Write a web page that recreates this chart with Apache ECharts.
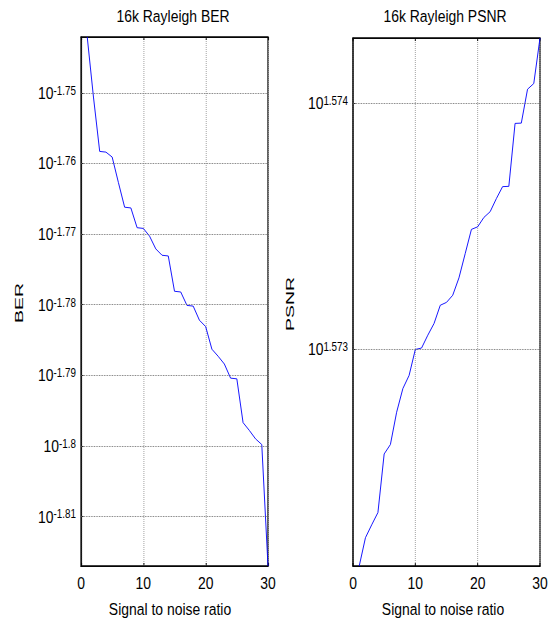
<!DOCTYPE html>
<html>
<head>
<meta charset="utf-8">
<script src="https://cdn.jsdelivr.net/npm/echarts@6/dist/echarts.min.js"></script>
<style>
  html, body { margin: 0; padding: 0; background: #fff; overflow: hidden; width: 556px; height: 624px; }
  /* the original figure is squeezed horizontally, so draw wider and squeeze the same way */
  #chart { width: 678px; height: 624px; transform: scaleX(0.82); transform-origin: 0 0; }
</style>
</head>
<body>
<div id="chart"></div>
<script>
// signal to noise ratio (x)
var snr = [1, 2, 3, 4, 5, 6, 7, 8, 9, 10, 11, 12, 13, 14, 15, 16, 17, 18, 19, 20,
           21, 22, 23, 24, 25, 26, 27, 28, 29, 30];

var ber = [0.0181092, 0.0177582, 0.0174462, 0.0174422, 0.0174141, 0.0172703, 0.0171317, 0.0171277,
           0.0170177, 0.0170137, 0.0169707, 0.0169004, 0.0168654, 0.0168616, 0.0166686, 0.0166648,
           0.0165920, 0.0165882, 0.0165120, 0.0164778, 0.0163568, 0.0163192, 0.0162779, 0.0162031,
           0.0161995, 0.0159699, 0.0159295, 0.0158855, 0.0158563, 0.0152406];

var psnr = [37.3352, 37.3451, 37.3496, 37.3539, 37.3744, 37.3777, 37.3890, 37.3973, 37.4019, 37.4110,
            37.4115, 37.4160, 37.4201, 37.4265, 37.4275, 37.4300, 37.4361, 37.4446, 37.4531, 37.4540,
            37.4573, 37.4593, 37.4639, 37.4681, 37.4682, 37.4903, 37.4904, 37.5023, 37.5043, 37.5203];

// log axis tick labels (exponents of 10)
var berTicks = ['-1.75', '-1.76', '-1.77', '-1.78', '-1.79', '-1.8', '-1.81'];
var psnrTicks = ['1.574', '1.573'];

var FONT = "'Liberation Sans', Arial, Helvetica, sans-serif";
var SX = 0.82;

// screen x -> x before the squeeze
function px(x){ return x / SX; }

function pairs(xs, ys){
    return xs.map(function (x, i) { return [x, ys[i]]; });
}

function tick_values(ticks){
    return ticks.map(function (t) { return Math.pow(10, parseFloat(t)); });
}

// horizontal grid lines of the log axis, with 10^x labels on the left
function log_grid_lines(ticks){
    return {
        silent: true,
        symbol: 'none',
        precision: 10,
        animation: false,
        lineStyle: { color: '#666', type: 'dotted', width: 1 },
        label: {
            show: true,
            position: 'start',
            distance: px(5),
            formatter: function (p) { return '{b|10}{s|' + p.name + '}'; },
            rich: {
                b: { fontFamily: FONT, fontSize: 17, lineHeight: 17, color: '#000', verticalAlign: 'bottom' },
                s: { fontFamily: FONT, fontSize: 12, lineHeight: 11, color: '#000', verticalAlign: 'top' }
            }
        },
        data: ticks.map(function (t) {
            return { name: t, yAxis: Math.pow(10, parseFloat(t)) };
        })
    };
}

function x_axes(grid_index){
    return [{
        type: 'value', gridIndex: grid_index, min: 0, max: 30, interval: 10,
        axisLine: { lineStyle: { color: '#000' } },
        axisTick: { inside: true, length: 3, lineStyle: { color: '#000' } },
        axisLabel: { fontFamily: FONT, fontSize: 17, color: '#000', margin: 8 },
        splitLine: { show: true, lineStyle: { color: '#999', type: 'dotted' } }
    }, {
        type: 'value', gridIndex: grid_index, position: 'top', min: 0, max: 30, interval: 10,
        axisLine: { lineStyle: { color: '#000' } },
        axisTick: { inside: true, length: 3, lineStyle: { color: '#000' } },
        axisLabel: { show: false },
        splitLine: { show: false }
    }];
}

function y_axis(grid_index, ticks){
    return {
        type: 'log', logBase: 10, gridIndex: grid_index, min: 'dataMin', max: 'dataMax',
        axisLine: { show: true, lineStyle: { color: '#000' } },
        axisTick: { show: true, inside: true, length: 3, customValues: tick_values(ticks), lineStyle: { color: '#000' } },
        axisLabel: { show: false },
        splitLine: { show: false }
    };
}

function line_series(name, x_index, y_index, data, ticks){
    return {
        type: 'line', name: name,
        xAxisIndex: x_index, yAxisIndex: y_index,
        data: data,
        symbol: 'none',
        lineStyle: { color: '#0000ff', width: 1 },
        markLine: log_grid_lines(ticks)
    };
}

function text_el(txt, x, y, size, rot, sx){
    return {
        type: 'text', x: px(x), y: y, rotation: rot || 0, scaleX: sx || 1,
        style: {
            text: txt, fill: '#000', fontFamily: FONT, fontSize: size,
            align: 'center', verticalAlign: 'middle', textAlign: 'center', textVerticalAlign: 'middle'
        }
    };
}

var chart = echarts.init(document.getElementById('chart'), null, { renderer: 'svg' });
var options = {
    animation: false,
    backgroundColor: '#fff',
    grid: [
        { left: px(81), top: 37, width: px(187), height: 529, show: true, borderColor: '#000', borderWidth: 1.5, backgroundColor: 'transparent' },
        { left: px(353), top: 38, width: px(187), height: 528, show: true, borderColor: '#000', borderWidth: 1.5, backgroundColor: 'transparent' }
    ],
    // each grid gets a bottom x axis and a top one (ticks only)
    xAxis: x_axes(0).concat(x_axes(1)),
    yAxis: [y_axis(0, berTicks), y_axis(1, psnrTicks)],
    series: [
        line_series('BER', 0, 0, pairs(snr, ber), berTicks),
        line_series('PSNR', 2, 1, pairs(snr, psnr), psnrTicks)
    ],
    graphic: [
        text_el('16k Rayleigh BER', 173, 16, 17),
        text_el('16k Rayleigh PSNR', 445, 16, 17),
        text_el('Signal to noise ratio', 170, 609, 17),
        text_el('Signal to noise ratio', 443, 609, 17),
        text_el('BER', 19, 303, 14, Math.PI / 2, 1.39),
        text_el('PSNR', 290, 304, 14, Math.PI / 2, 1.39)
    ]
};
chart.setOption(options);
</script>
</body>
</html>
